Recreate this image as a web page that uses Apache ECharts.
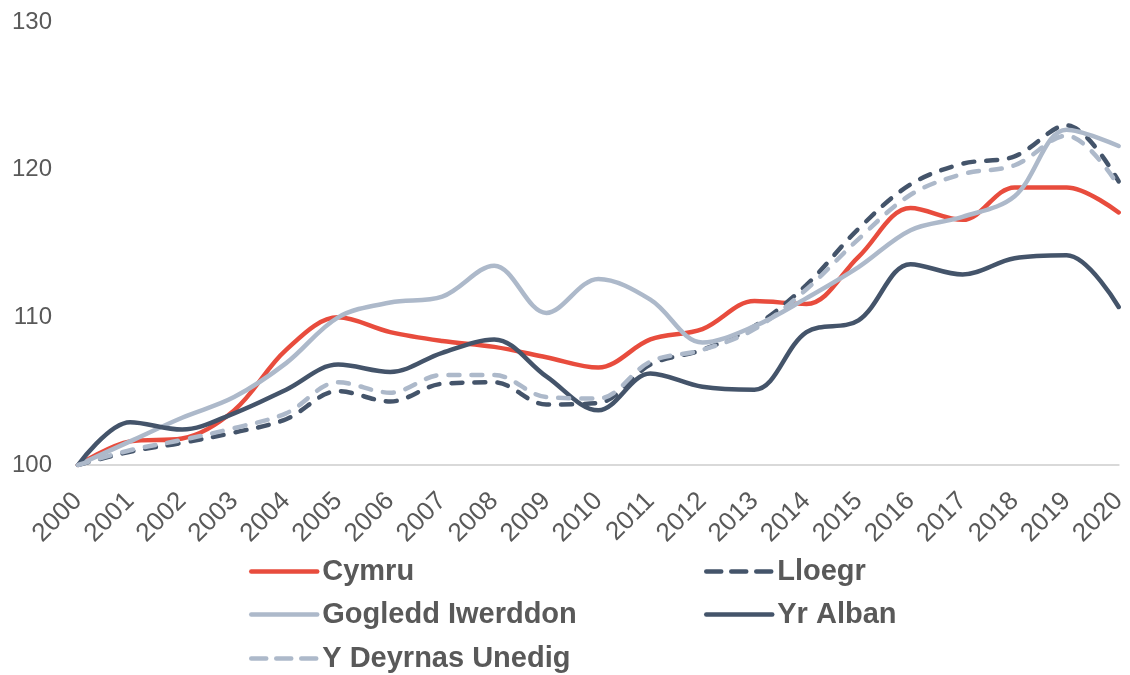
<!DOCTYPE html>
<html>
<head>
<meta charset="utf-8">
<script src="https://cdn.jsdelivr.net/npm/echarts@6/dist/echarts.min.js"></script>
<style>
    html, body { margin: 0; padding: 0; background: #ffffff; }
    #chart { width: 1130px; height: 675px; }
</style>
</head>
<body>
<div id="chart"></div>
<script>
    // blynyddoedd
    var years = ['2000', '2001', '2002', '2003', '2004', '2005', '2006', '2007', '2008', '2009', '2010',
                 '2011', '2012', '2013', '2014', '2015', '2016', '2017', '2018', '2019', '2020'];

    // mynegai (2000 = 100)
    var cymru    = [100, 101.6, 101.8, 103.7, 107.8, 110.0, 109.0, 108.4, 108.0, 107.3, 106.6,
                    108.5, 109.2, 111.1, 110.9, 114.1, 117.4, 116.6, 118.8, 118.8, 117.1];
    var lloegr   = [100, 100.9, 101.5, 102.2, 103.1, 105.0, 104.3, 105.5, 105.6, 104.1, 104.2,
                    106.8, 107.8, 109.4, 112.2, 116.0, 119.0, 120.4, 120.9, 123.0, 119.2];
    var gIwerddon = [100, 101.6, 103.2, 104.6, 106.9, 110.0, 111.0, 111.4, 113.5, 110.3, 112.6,
                    111.2, 108.3, 109.4, 111.3, 113.4, 115.9, 116.8, 118.2, 122.7, 121.6];
    var yrAlban  = [100, 102.9, 102.4, 103.5, 105.1, 106.8, 106.3, 107.6, 108.5, 106.0, 103.7,
                    106.2, 105.3, 105.1, 109.0, 109.8, 113.6, 112.9, 114.0, 114.2, 110.7];
    var yDU      = [100, 101.0, 101.7, 102.5, 103.5, 105.6, 104.9, 106.1, 106.1, 104.6, 104.5,
                    107.0, 107.8, 109.2, 111.9, 115.3, 118.3, 119.7, 120.3, 122.3, 118.9];

    var RED = '#E84C3D', DARK = '#44546A', LIGHT = '#ADB9CA';
    var FONT = 'Liberation Sans, Arial, sans-serif';

    var chart = echarts.init(document.getElementById('chart'));

    function line(name, data, color, dashed) {
        return {
            name: name,
            type: 'line',
            data: data,
            smooth: 0.35,
            symbol: 'none',
            lineStyle: {
                color: color,
                width: 4.5,
                type: dashed ? [11, 12] : 'solid',
                cap: 'round'
            },
            itemStyle: { color: color }
        };
    }

    // un allwedd i bob eitem, mewn dwy golofn
    function legendItem(name, left, top, dashed) {
        return {
            data: [name],
            left: left, top: top,
            padding: 0,
            itemWidth: 66, itemHeight: 14,
            lineStyle: { width: 4.5, type: dashed ? [15, 10] : 'solid', cap: 'round' },
            itemStyle: { opacity: 0 },
            textStyle: { color: '#595959', fontSize: 29, fontWeight: 'bold', fontFamily: FONT, lineHeight: 28 }
        };
    }

    var option = {
        backgroundColor: '#ffffff',
        animation: false,
        grid: { left: 78, right: 10, top: 22, bottom: 210 },
        legend: [
            legendItem('Cymru', 249, 557, false),
            legendItem('Lloegr', 704, 557, true),
            legendItem('Gogledd Iwerddon', 249, 600, false),
            legendItem('Yr Alban', 704, 600, false),
            legendItem('Y Deyrnas Unedig', 249, 644, true)
        ],
        xAxis: {
            type: 'category',
            data: years,
            boundaryGap: false,
            axisLine: { lineStyle: { color: '#D9D9D9', width: 2 } },
            axisTick: { show: false },
            axisLabel: { rotate: 45, margin: 32, fontSize: 26, color: '#595959', fontFamily: FONT, interval: 0 }
        },
        yAxis: {
            type: 'value',
            min: 100, max: 130, interval: 10,
            axisLine: { show: false },
            axisTick: { show: false },
            splitLine: { show: false },
            axisLabel: { margin: 26, fontSize: 24, color: '#595959', fontFamily: FONT }
        },
        series: [
            line('Cymru', cymru, RED, false),
            line('Lloegr', lloegr, DARK, true),
            line('Gogledd Iwerddon', gIwerddon, LIGHT, false),
            line('Yr Alban', yrAlban, DARK, false),
            line('Y Deyrnas Unedig', yDU, LIGHT, true)
        ]
    };

    chart.setOption(option);
</script>
</body>
</html>
